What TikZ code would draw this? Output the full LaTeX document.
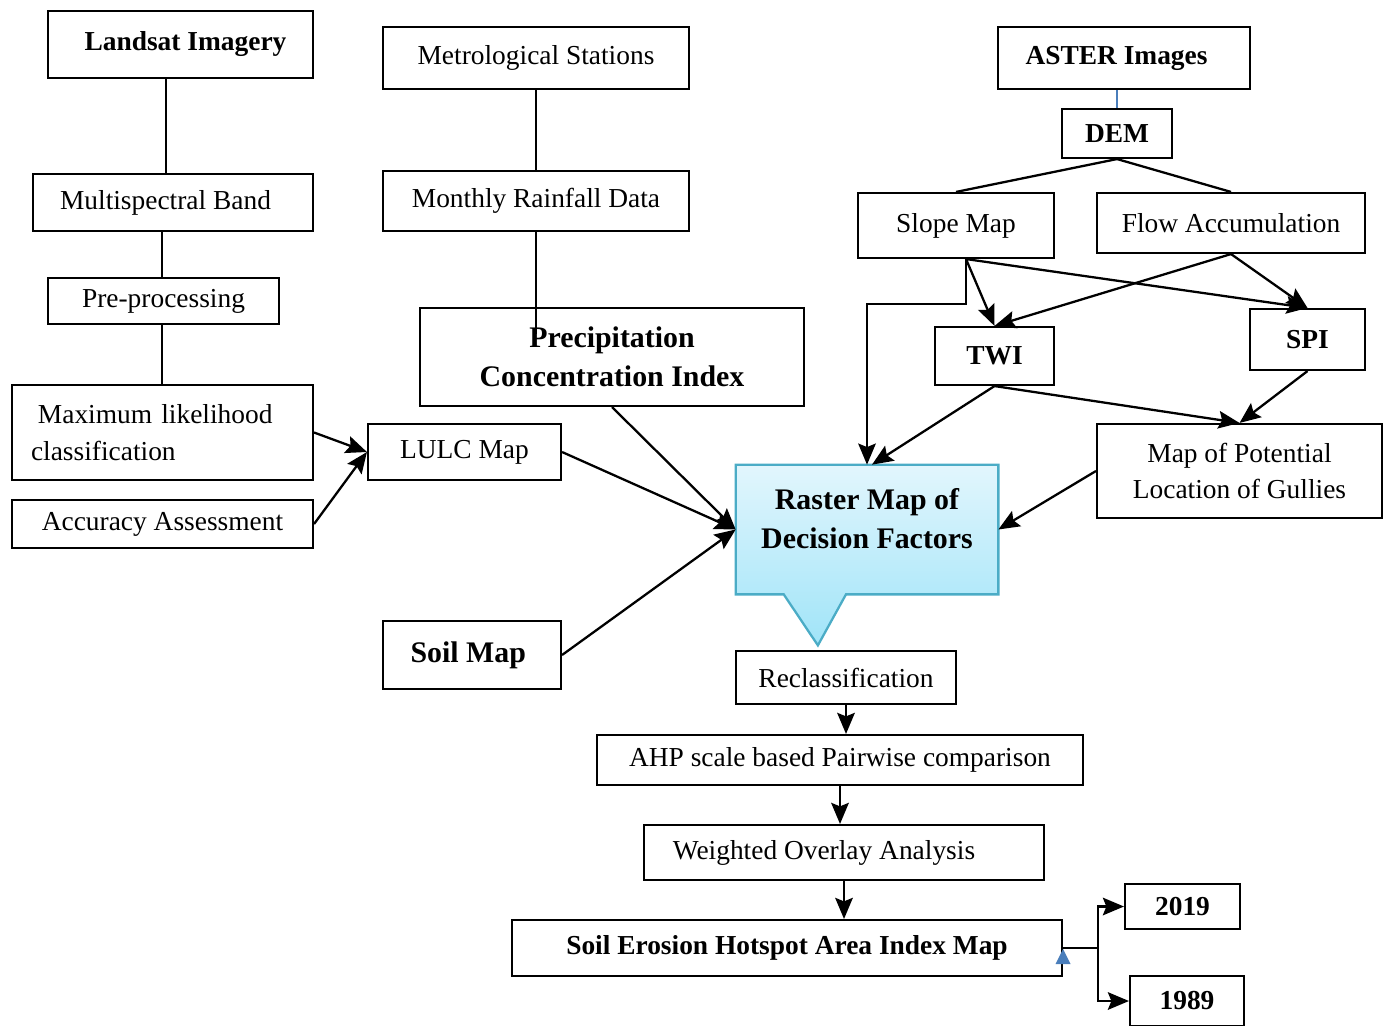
\documentclass[tikz,border=0pt]{standalone}
\usepackage{fontspec}
\setmainfont{Liberation Serif}
\usepackage{tikz}
\usetikzlibrary{arrows.meta, positioning, calc, backgrounds}
\definecolor{calloutlight}{RGB}{226, 246, 253}
\definecolor{calloutdark}{RGB}{160, 228, 248}
\definecolor{calloutedge}{RGB}{75, 172, 198}
\definecolor{linkblue}{RGB}{74, 126, 187}
\newcommand{\basefont}{\fontsize{15.6}{21}\selectfont}
\newcommand{\bigfont}{\fontsize{17}{22.4}\selectfont\bfseries}

\tikzset{
  flowbox/.style={draw, line width=1.2pt, rectangle, inner sep=0pt, font=\basefont, align=center},
  boldbox/.style={flowbox, font=\basefont\bfseries},
  bigbox/.style={flowbox, font=\bigfont},
  sized/.style 2 args={minimum width=#1cm, minimum height=#2cm},
  arr/.style={-{Stealth[length=12pt, width=10pt, inset=2pt]}, line width=1.3pt},
  plain/.style={line width=1.3pt}
}

\begin{document}
\begin{tikzpicture}
\useasboundingbox (0,0) rectangle (27.78,-20.50);

% ── Column 1: Landsat branch ────────────────────────────────────
\node[boldbox, sized={5.30}{1.34}] (landsat) at (3.61,-0.89) {\hspace*{0.2cm}Landsat Imagery};
\node[flowbox, sized={5.60}{1.14}] (multiband) at (3.46,-4.05) {\hspace*{-0.3cm}Multispectral Band};
\node[flowbox, sized={4.62}{0.92}] (preproc) at (3.27,-6.02) {Pre-processing};
\node[flowbox, sized={6.02}{1.90}, text width=5.26cm, inner xsep=0.38cm, align=left]
  (maxlik) at (3.25,-8.65) {\hspace*{0.14cm}Maximum likelihood\\classification};
\node[flowbox, sized={6.02}{0.96}] (accuracy) at (3.25,-10.48) {Accuracy Assessment};

\draw[plain] (landsat.south -| 3.32,0) -- (multiband.north -| 3.32,0);
\draw[plain] (multiband.south -| 3.24,0) -- (preproc.north -| 3.24,0);
\draw[plain] (preproc.south -| 3.24,0) -- (maxlik.north -| 3.24,0);

% ── Column 2: rainfall, land use, soil ──────────────────────────
\node[flowbox, sized={6.12}{1.24}] (metstation) at (10.72,-1.16) {Metrological Stations};
\node[flowbox, sized={6.12}{1.20}] (rainfall) at (10.72,-4.02) {Monthly Rainfall Data};
\node[bigbox, sized={7.68}{1.96}] (pci) at (12.24,-7.14) {Precipitation\\Concentration Index};
\node[flowbox, sized={3.86}{1.12}] (lulc) at (9.29,-9.04) {LULC Map};
\node[bigbox, sized={3.56}{1.36}] (soilmap) at (9.44,-13.10) {\hspace*{-0.15cm}Soil Map};

\draw[plain] (metstation.south) -- (rainfall.north);
\draw[plain] (rainfall.south) -- ([yshift=-0.55cm]rainfall.south |- pci.north);
\draw[arr] (maxlik.east) -- (lulc.west);
\draw[arr] (accuracy.east) -- (lulc.west);

% ── Column 3: ASTER / DEM derivatives ───────────────────────────
\node[boldbox, sized={5.04}{1.24}] (aster) at (22.48,-1.16) {\hspace*{-0.3cm}ASTER Images};
\node[boldbox, sized={2.20}{0.98}] (dem) at (22.34,-2.67) {DEM};
\node[flowbox, sized={3.92}{1.30}] (slope) at (19.12,-4.51) {Slope Map};
\node[flowbox, sized={5.36}{1.20}] (flowacc) at (24.62,-4.46) {Flow Accumulation};
\node[boldbox, sized={2.38}{1.16}] (twi) at (19.89,-7.12) {TWI};
\node[boldbox, sized={2.30}{1.22}] (spi) at (26.15,-6.79) {SPI};
\node[flowbox, sized={5.70}{1.88}] (gullies) at (24.79,-9.42) {Map of Potential\\Location of Gullies};
\coordinate (slopeout) at ([xshift=0.2cm]slope.south);

\draw[linkblue, line width=1pt] (dem.north |- aster.south) -- (dem.north);
\draw[plain] (dem.south) -- (slope.north);
\draw[plain] (dem.south) -- (flowacc.north);
\draw[arr] (slopeout) -- (twi.north);
\draw[arr] (slopeout) -- (spi.north);
\draw[arr] (flowacc.south) -- (twi.north);
\draw[arr] (flowacc.south) -- (spi.north);
\draw[arr] (twi.south) -- (gullies.north);
\draw[arr] (spi.south) -- (gullies.north);

% ── Central callout: Raster map ─────────────────────────────────
\node[sized={5.24}{2.58}] (raster) at (17.34,-10.59) {};
\node[font=\bigfont, align=center] (rastertext) at ([yshift=0.22cm]raster.center) {Raster Map of\\Decision Factors};
\begin{scope}[on background layer]
  \shadedraw[top color=calloutlight, bottom color=calloutdark, draw=calloutedge, line width=1.3pt]
  (raster.north west) -- (raster.north east) -- (raster.south east)
  -- ($(raster.south west)!0.42!(raster.south east)$)
  -- ($(raster.south west)!0.313!(raster.south east)+(0,-1.02)$)
  -- ($(raster.south west)!0.183!(raster.south east)$)
  -- (raster.south west) -- cycle;
\end{scope}

\draw[arr] (lulc.east) -- (raster.west);
\draw[arr] (pci.south) -- (raster.west);
\draw[arr] (soilmap.east) -- (raster.west);
\draw[arr] (slopeout) -- ++(0,-0.9) -| (raster.north);
\draw[arr] (twi.south) -- ([xshift=0.1cm]raster.north);
\draw[arr] (gullies.west) -- (raster.east);

% ── Weighting steps ─────────────────────────────────────────────
\node[flowbox, sized={4.40}{1.06}] (reclass) at (16.92,-13.55) {Reclassification};
\node[flowbox, sized={9.72}{1.00}] (ahp) at (16.80,-15.20) {AHP scale based Pairwise comparison};
\node[flowbox, sized={8.00}{1.10}] (overlay) at (16.88,-17.05) {\hspace*{-0.8cm}Weighted Overlay Analysis};
\node[boldbox, sized={11.00}{1.12}] (hotspot) at (15.74,-18.96) {Soil Erosion Hotspot Area Index Map};
\node[boldbox, sized={2.30}{0.90}] (yr2019) at (23.65,-18.13) {2019};
\node[boldbox, sized={2.28}{1.00}] (yr1989) at (23.74,-20.02) {1989};

\draw[arr] (reclass.south) -- (reclass.south |- ahp.north);
\draw[arr] (ahp.south) -- (ahp.south |- overlay.north);
\draw[arr] (overlay.south) -- (overlay.south |- hotspot.north);
\draw[plain] (hotspot.east) -- ++(0.7,0) coordinate (fork);
\draw[arr] (fork) |- (yr2019.west);
\draw[arr] (fork) |- (yr1989.west);
\fill[linkblue] ([yshift=-0.02cm]hotspot.east) -- ++(0.15,-0.3) -- ++(-0.3,0) -- cycle;

\end{tikzpicture}
\end{document}
